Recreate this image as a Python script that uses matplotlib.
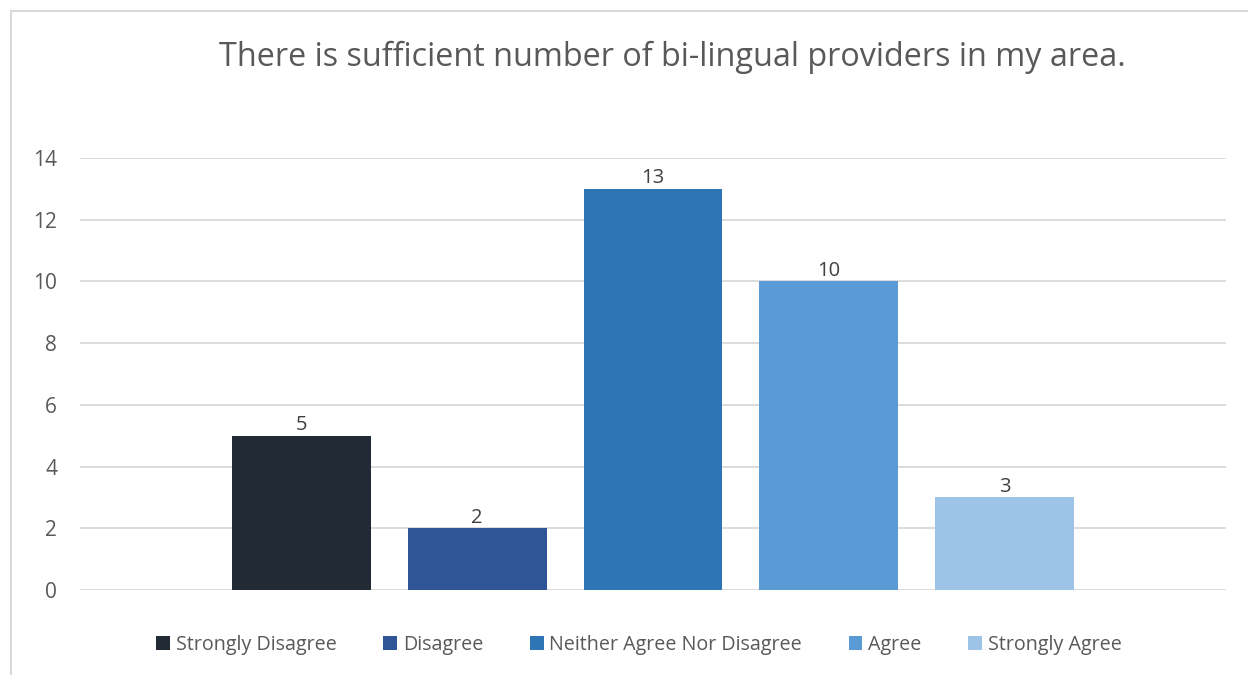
import matplotlib
matplotlib.use("Agg")
import matplotlib.pyplot as plt
from matplotlib.patches import Rectangle

title = "There is sufficient number of bi-lingual providers in my area."
categories = ["Strongly Disagree", "Disagree", "Neither Agree Nor Disagree", "Agree", "Strongly Agree"]
values = [5, 2, 13, 10, 3]
colors = ["#222A35", "#2F5597", "#2E75B6", "#5B9BD5", "#9DC3E6"]
yticks = [0, 2, 4, 6, 8, 10, 12, 14]

plt.rcParams['font.family'] = ['Open Sans', 'DejaVu Sans']
txt = "#595959"

fig = plt.figure(figsize=(12.48, 6.75), dpi=100)
fig.patches.append(Rectangle((11/1248, -0.1), 1.2, 1 - 11/675 + 0.1, transform=fig.transFigure,
                             fill=False, edgecolor="#D9D9D9", linewidth=1.5))
ax = fig.add_axes([80/1248, 1 - 590/675, (1226 - 80)/1248, (590 - 158)/675])

for i, (c, v, col) in enumerate(zip(categories, values, colors)):
    ax.bar(i, v, width=139/176, color=col, label=c, zorder=3)
    ax.text(i, v + 0.02, str(v), ha="center", va="bottom", fontsize=14.5, color="#404040", zorder=4)

ax.set_xlim(-1.259, 5.259)
ax.set_ylim(0, 14)
ax.set_yticks(yticks)
ax.set_xticks([])
ax.yaxis.grid(True, color="#D9D9D9", linewidth=1.3, zorder=0)
for s in ax.spines.values():
    s.set_visible(False)
ax.tick_params(axis="y", length=0, pad=16.5, labelsize=15, labelcolor=txt)

fig.text(672/1248, 1 - 57/675, title, ha="center", va="center", fontsize=23.3, color=txt)

leg = fig.legend(loc="center", bbox_to_anchor=(639/1248, 1 - 645/675), ncol=5, frameon=False,
                 fontsize=14.2, labelcolor=txt, handlelength=0.7, handleheight=0.7,
                 handletextpad=0.3, columnspacing=2.35)

fig.savefig("out.png", dpi=100)
